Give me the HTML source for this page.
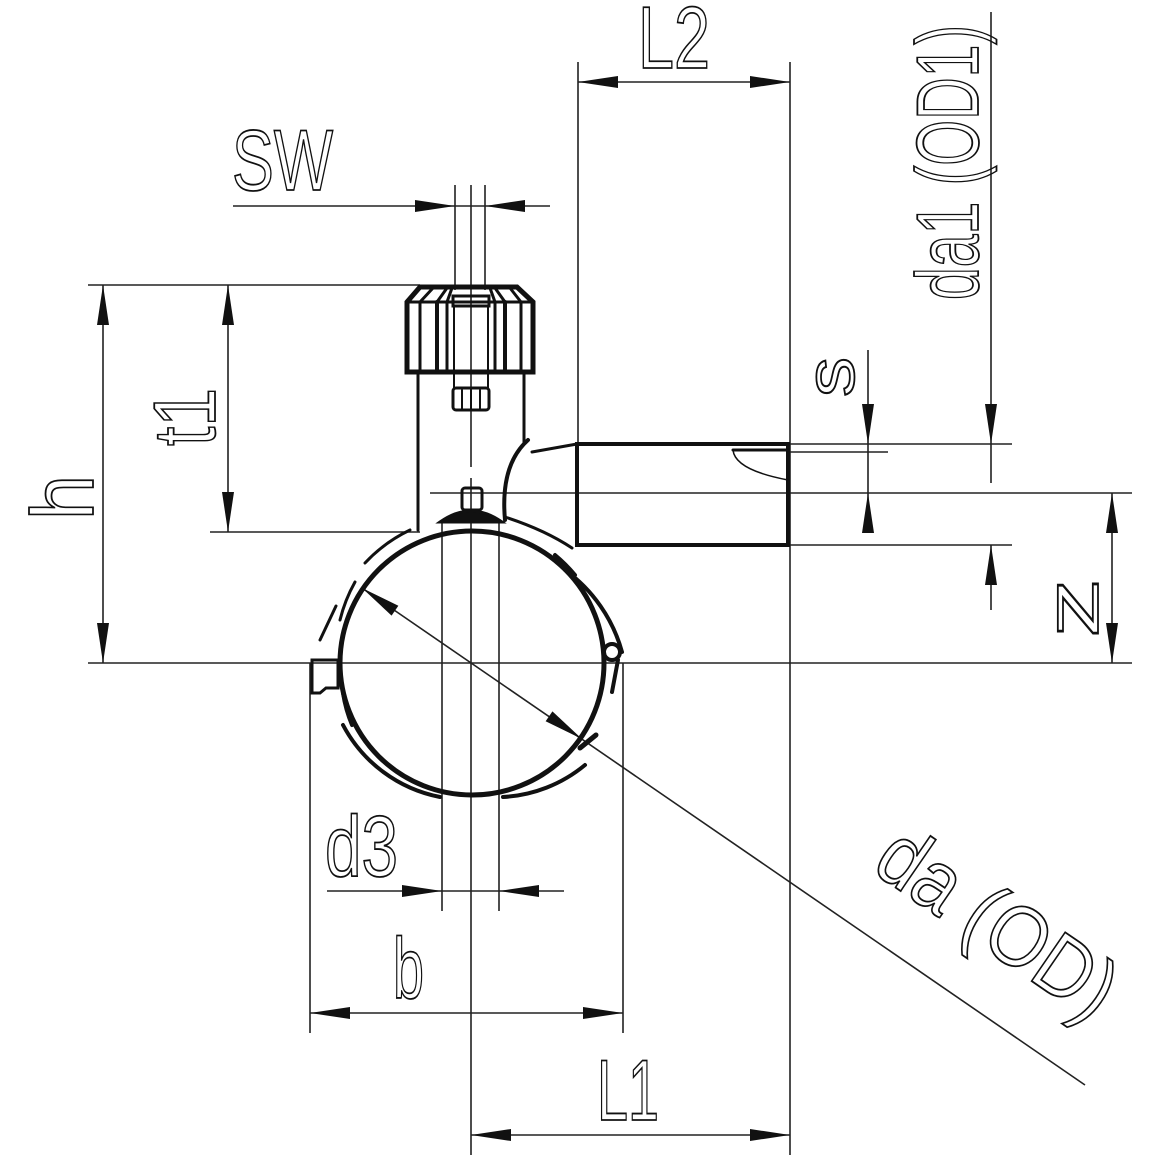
<!DOCTYPE html>
<html><head><meta charset="utf-8"><style>html,body{margin:0;padding:0;background:#fff}svg{display:block}
text{font-family:"Liberation Sans Narrow","Liberation Sans",sans-serif;fill:none;stroke:#111;stroke-width:1.8}</style></head>
<body>
<svg width="1162" height="1162" viewBox="0 0 1162 1162" xmlns="http://www.w3.org/2000/svg">
<g stroke="#222" stroke-width="1.6" fill="none">
<!-- centerlines / extension lines -->
<line x1="88" y1="663" x2="1132" y2="663"/>
<line x1="790" y1="62" x2="790" y2="1155"/>
<line x1="578" y1="62" x2="578" y2="444"/>
<line x1="471" y1="185" x2="471" y2="467"/>
<line x1="471" y1="478" x2="471" y2="1155"/>
<line x1="455" y1="185" x2="455" y2="290"/>
<line x1="485" y1="185" x2="485" y2="290"/>
<line x1="88" y1="285" x2="420" y2="285"/>
<line x1="210" y1="532" x2="420" y2="532"/>
<line x1="430" y1="493" x2="1132" y2="493"/>
<line x1="790" y1="444" x2="1012" y2="444"/>
<line x1="790" y1="452" x2="888" y2="452"/>
<line x1="790" y1="545" x2="1012" y2="545"/>
<line x1="442" y1="520" x2="442" y2="911"/>
<line x1="499" y1="520" x2="499" y2="911"/>
<line x1="310" y1="663" x2="310" y2="1033"/>
<line x1="623" y1="663" x2="623" y2="1033"/>
<!-- dimension lines -->
<line x1="578" y1="82" x2="790" y2="82"/>
<line x1="233" y1="206" x2="550" y2="206"/>
<line x1="103" y1="285" x2="103" y2="663"/>
<line x1="228" y1="285" x2="228" y2="532"/>
<line x1="868" y1="350" x2="868" y2="515"/>
<line x1="991" y1="12" x2="991" y2="483"/>
<line x1="991" y1="545" x2="991" y2="610"/>
<line x1="1112" y1="493" x2="1112" y2="663"/>
<line x1="327" y1="891" x2="564" y2="891"/>
<line x1="310" y1="1013" x2="623" y2="1013"/>
<line x1="471" y1="1135" x2="790" y2="1135"/>
<line x1="362" y1="588" x2="1085" y2="1085"/>
</g>
<g fill="#111">
<!-- L2 -->
<polygon points="578,82 618,76 618,88"/><polygon points="790,82 750,76 750,88"/>
<!-- SW -->
<polygon points="455,206 415,200 415,212"/><polygon points="485,206 525,200 525,212"/>
<!-- h -->
<polygon points="103,285 97,325 109,325"/><polygon points="103,663 97,623 109,623"/>
<!-- t1 -->
<polygon points="228,285 222,325 234,325"/><polygon points="228,532 222,492 234,492"/>
<!-- s -->
<polygon points="868,444 862,404 874,404"/><polygon points="868,493 862,533 874,533"/>
<!-- da1 -->
<polygon points="991,444 985,404 997,404"/><polygon points="991,545 985,585 997,585"/>
<!-- z -->
<polygon points="1112,493 1106,533 1118,533"/><polygon points="1112,663 1106,623 1118,623"/>
<!-- d3 -->
<polygon points="442,891 402,885 402,897"/><polygon points="499,891 539,885 539,897"/>
<!-- b -->
<polygon points="310,1013 350,1007 350,1019"/><polygon points="623,1013 583,1007 583,1019"/>
<!-- L1 -->
<polygon points="471,1135 511,1129 511,1141"/><polygon points="790,1135 750,1129 750,1141"/>
<!-- da -->
<g transform="translate(362,588) rotate(34.5)"><polygon points="0,0 40,-6 40,6"/></g>
<g transform="translate(582,739) rotate(34.5)"><polygon points="0,0 -40,-6 -40,6"/></g>
</g>
<!-- part drawing -->
<g stroke="#111" fill="none" stroke-linecap="round">
<!-- cap -->
<path d="M407,302 L420,287 L517,287 L533,302 L533,372 L407,372 Z" stroke-width="5"/>
<line x1="407" y1="302" x2="533" y2="302" stroke-width="3"/>
<line x1="420" y1="302" x2="420" y2="370" stroke-width="3"/>
<line x1="437" y1="302" x2="437" y2="370" stroke-width="4"/>
<line x1="447" y1="302" x2="447" y2="370" stroke-width="3"/>
<line x1="495" y1="302" x2="495" y2="370" stroke-width="3"/>
<line x1="505" y1="302" x2="505" y2="370" stroke-width="4"/>
<line x1="521" y1="302" x2="521" y2="370" stroke-width="3"/>
<path d="M433,288 L420,302 M447,288 L437,302 M452,288 L447,302 M490,288 L495,302 M495,288 L505,302 M510,288 L521,302" stroke-width="3"/>
<rect x="453" y="296" width="36" height="10" stroke-width="3"/>
<path d="M454,306 L454,388 L488,388 L488,306" stroke-width="2"/>
<rect x="453" y="388" width="36" height="22" rx="3" stroke-width="3"/>
<line x1="462" y1="390" x2="462" y2="409" stroke-width="2"/>
<line x1="471" y1="390" x2="471" y2="409" stroke-width="2"/>
<line x1="480" y1="390" x2="480" y2="409" stroke-width="2"/>
<!-- body -->
<line x1="418" y1="372" x2="418" y2="530" stroke-width="3"/>
<line x1="524" y1="372" x2="524" y2="443" stroke-width="3"/>
<rect x="462" y="488" width="20" height="22" rx="3" stroke-width="3"/>
<path d="M440,522 Q471,500 502,522 Z" fill="#111" stroke-width="3"/>
<path d="M528,440 Q500,465 505,520" stroke-width="4"/>
<path d="M532,452 L577,444" stroke-width="3"/>
<path d="M505,517 Q545,530 572,548" stroke-width="3"/>
<!-- outlet -->
<rect x="577" y="444" width="211" height="101" stroke-width="4"/>
<path d="M733,450 L788,450" stroke-width="3"/>
<path d="M733,450 Q735,470 788,480" stroke-width="1.5"/>
<!-- main ring -->
<circle cx="472" cy="663" r="132" stroke-width="5"/>
<!-- saddle segments -->
<path d="M365,563 A150,150 0 0 1 410,530" stroke-width="3"/>
<path d="M340,620 A150,150 0 0 1 355,582" stroke-width="3"/>
<path d="M343,693 A135,135 0 0 0 352,725" stroke-width="4"/>
<path d="M343,725 A140,140 0 0 0 440,797" stroke-width="4"/>
<path d="M503,797 A140,140 0 0 0 585,765" stroke-width="4"/>
<path d="M555,555 A150,150 0 0 1 575,575" stroke-width="4"/>
<path d="M565,570 A150,150 0 0 1 622,652" stroke-width="4"/>
<circle cx="612" cy="652" r="8" stroke-width="4"/>
<path d="M618,660 L612,692" stroke-width="4"/>
<path d="M580,748 L596,735" stroke-width="5"/>
<path d="M312,660 L338,660 L338,688 L326,688 L320,693 L312,693 Z" stroke-width="3"/>
<path d="M320,640 L336,606" stroke-width="3"/>
</g>
<!-- labels -->
<text x="638" y="68" font-size="88" textLength="72" lengthAdjust="spacingAndGlyphs">L2</text>
<text x="232" y="190" font-size="86" textLength="101" lengthAdjust="spacingAndGlyphs">SW</text>
<text transform="translate(93,520) rotate(-90)" font-size="88" textLength="45" lengthAdjust="spacingAndGlyphs">h</text>
<text transform="translate(215,446) rotate(-90)" font-size="88" textLength="58" lengthAdjust="spacingAndGlyphs">t1</text>
<text transform="translate(854,397) rotate(-90)" font-size="70" textLength="40" lengthAdjust="spacingAndGlyphs">s</text>
<text transform="translate(978,300) rotate(-90)" font-size="88" textLength="275" lengthAdjust="spacingAndGlyphs">da1 (OD1)</text>
<text transform="translate(1098,638) rotate(-90)" font-size="76" textLength="60" lengthAdjust="spacingAndGlyphs">z</text>
<text x="325" y="876" font-size="86" textLength="73" lengthAdjust="spacingAndGlyphs">d3</text>
<text x="393" y="998" font-size="86" textLength="31" lengthAdjust="spacingAndGlyphs">b</text>
<text x="597" y="1120" font-size="86" textLength="62" lengthAdjust="spacingAndGlyphs">L1</text>
<text transform="translate(870,870) rotate(34.5)" font-size="86" textLength="270" lengthAdjust="spacingAndGlyphs">da (OD)</text>
</svg>
</body></html>
